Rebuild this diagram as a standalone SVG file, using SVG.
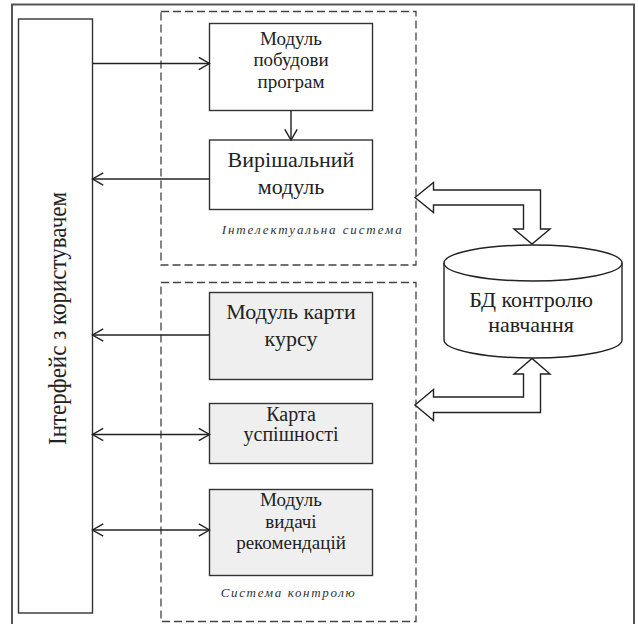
<svg xmlns="http://www.w3.org/2000/svg" width="638" height="624" viewBox="0 0 638 624">
<style>
  .t { font-family: "Liberation Serif", "Times New Roman", "DejaVu Serif", serif; font-size: 22px; fill: #222; text-anchor: middle; }
  .s { font-size: 20px; }
  .s3 { font-size: 19px; }
  .it { font-family: "Liberation Serif", "Times New Roman", "DejaVu Serif", serif; font-size: 13px; font-style: italic; fill: #333; }
  .box { fill: #ffffff; stroke: #333; stroke-width: 1.4; }
  .gbox { fill: #efefef; stroke: #333; stroke-width: 1.4; }
  .dash { fill: none; stroke: #444; stroke-width: 1.3; stroke-dasharray: 8 4; }
  .ln { fill: none; stroke: #222; stroke-width: 1.4; }
  .blk { fill: #ffffff; stroke: #222; stroke-width: 1.4; stroke-linejoin: miter; }
</style>
<defs>
  <marker id="ah" markerUnits="userSpaceOnUse" markerWidth="14" markerHeight="16" refX="11.5" refY="7" orient="auto-start-reverse">
    <path d="M0.8,0.8 L11.5,7 L0.8,13.2" fill="none" stroke="#222" stroke-width="1.4"/>
  </marker>
</defs>
<rect width="638" height="624" fill="#ffffff"/>
<g id="frame">
  <rect x="12" y="4.5" width="622" height="640" fill="none" stroke="#555" stroke-width="2"/>
</g>
<g id="group-intelligent">
  <rect class="dash" x="161" y="11.5" width="255" height="253.5"/>
  <text class="it" x="221.7" y="234" textLength="180" lengthAdjust="spacing">Інтелектуальна  система</text>
</g>
<g id="group-control">
  <rect class="dash" x="161" y="282.5" width="255" height="339"/>
  <text class="it" x="220.7" y="597" textLength="134" lengthAdjust="spacing">Система контролю</text>
</g>
<g id="interface">
  <rect class="box" x="18.5" y="19" width="74" height="594" stroke-width="1.6"/>
  <text class="t" transform="translate(66 318.5) rotate(-90)" style="font-size:26px" textLength="253" lengthAdjust="spacingAndGlyphs">Інтерфейс з користувачем</text>
</g>
<g id="program-builder">
  <rect class="box" x="209.5" y="23.5" width="163" height="87"/>
  <text class="t s3" x="291" y="44.5">Модуль</text>
  <text class="t s3" x="291" y="66">побудови</text>
  <text class="t s3" x="291" y="87.5">програм</text>
</g>
<g id="solver">
  <rect class="box" x="209.5" y="140" width="163" height="69.5"/>
  <text class="t" x="291" y="167">Вирішальний</text>
  <text class="t" x="291" y="194">модуль</text>
</g>
<g id="course-map">
  <rect class="gbox" x="209.5" y="292.5" width="163" height="87"/>
  <text class="t" x="291" y="318.5">Модуль карти</text>
  <text class="t" x="291" y="346">курсу</text>
</g>
<g id="success-map">
  <rect class="gbox" x="209.5" y="403.5" width="163" height="60"/>
  <text class="t s" x="291" y="421">Карта</text>
  <text class="t s" x="291" y="441">успішності</text>
</g>
<g id="recommendations">
  <rect class="gbox" x="209.5" y="489.5" width="163" height="86"/>
  <text class="t s3" x="291" y="506">Модуль</text>
  <text class="t s3" x="291" y="527.5">видачі</text>
  <text class="t s3" x="291" y="549">рекомендацій</text>
</g>
<g id="database">
  <path d="M444,263 A89,18 0 0 1 622,263 L622,340 A89,18 0 0 1 444,340 Z" fill="#ffffff" stroke="#222" stroke-width="1.4"/>
  <path d="M444,263 A89,18 0 0 0 622,263" fill="none" stroke="#222" stroke-width="1.4"/>
  <text class="t" x="531" y="306.5">БД контролю</text>
  <text class="t" x="531" y="331.5">навчання</text>
</g>
<g id="connectors">
  <line class="ln" x1="92.5" y1="63.5" x2="209.5" y2="63.5" marker-end="url(#ah)"/>
  <line class="ln" x1="291" y1="110.5" x2="291" y2="140" marker-end="url(#ah)"/>
  <line class="ln" x1="209.5" y1="179" x2="92.5" y2="179" marker-end="url(#ah)"/>
  <line class="ln" x1="209.5" y1="335" x2="92.5" y2="335" marker-end="url(#ah)"/>
  <line class="ln" x1="92.5" y1="434.5" x2="209.5" y2="434.5" marker-start="url(#ah)" marker-end="url(#ah)"/>
  <line class="ln" x1="92.5" y1="530" x2="209.5" y2="530" marker-start="url(#ah)" marker-end="url(#ah)"/>
  <path class="blk" d="M415,197.5 L433.5,182.5 L433.5,190 L540.5,190 L540.5,229 L550,229 L532,244 L514,229 L523.5,229 L523.5,205 L433.5,205 L433.5,212.5 Z"/>
  <path class="blk" d="M415,405 L433.5,389.5 L433.5,397 L523.5,397 L523.5,374 L514,374 L532,358.5 L550,374 L540.5,374 L540.5,412.5 L433.5,412.5 L433.5,420.5 Z"/>
</g>
</svg>
